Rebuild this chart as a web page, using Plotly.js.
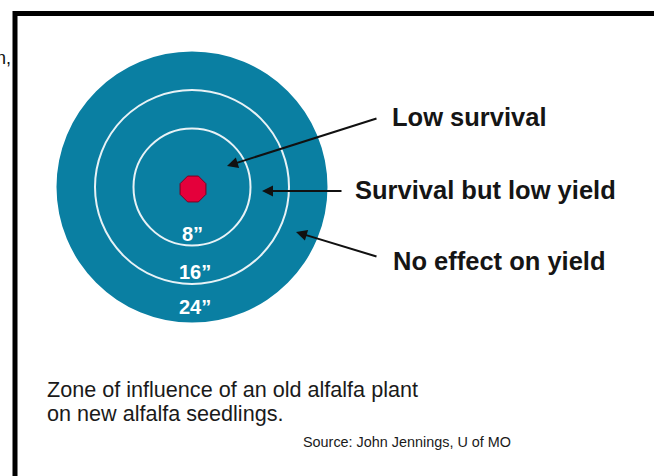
<!DOCTYPE html>
<html>
<head>
<meta charset="utf-8">
<script src="https://cdn.plot.ly/plotly-3.0.1.min.js"></script>
<style>html,body{margin:0;padding:0;background:#fff;}#chart{width:654px;height:476px;}</style>
</head>
<body>
<div id="chart"></div>
<script>
// Zones of influence (inches) and their labels
const ringInches = [8, 16, 24];
const ringLabels = ['8\u201d', '16\u201d', '24\u201d'];
const zoneNames = ['Low survival', 'Survival but low yield', 'No effect on yield'];
// radii (display units)
const ringRadii = [58.5, 97, 135.5];
const plantRadius = 14;
const captionLines = ['Zone of influence of an old alfalfa plant', 'on new alfalfa seedlings.'];
const sourceText = 'Source: John Jennings, U of MO';

const cx = 192, cy = 187;
const teal = '#0a7fa2';
const font = 'Liberation Sans, Arial, Helvetica, sans-serif';

const shapes = [];
// outer disc
shapes.push({type:'circle', xref:'x', yref:'y', x0:cx-ringRadii[2], x1:cx+ringRadii[2], y0:cy-ringRadii[2], y1:cy+ringRadii[2], fillcolor:teal, line:{width:0}, layer:'below'});
// inner white rings
for (let i = 0; i < 2; i++) {
  const r = ringRadii[i];
  shapes.push({type:'circle', xref:'x', yref:'y', x0:cx-r, x1:cx+r, y0:cy-r, y1:cy+r, line:{color:'#e8f2f6', width:2}});
}
// frame
shapes.push({type:'rect', xref:'x', yref:'y', x0:15, x1:700, y0:13.5, y1:520, line:{color:'#000', width:5}});

// octagonal plant
const ox = [], oy = [];
for (let k = 0; k <= 8; k++) {
  const a = (k * 45 + 22.5) * Math.PI / 180;
  ox.push(cx + 1 + plantRadius * Math.cos(a));
  oy.push(cy + 2 + plantRadius * Math.sin(a));
}
const traces = [{x: ox, y: oy, type:'scatter', mode:'lines', fill:'toself', fillcolor:'#e4003b', line:{color:'#7a0020', width:1}, hoverinfo:'skip', showlegend:false}];

const annotations = [];
// ring labels
const ringLabelY = [234, 272, 307];
ringLabels.forEach((t, i) => {
  annotations.push({x: cx + (i ? 3 : 0), y: ringLabelY[i], xref:'x', yref:'y', text:'<b>'+t+'</b>', showarrow:false, font:{family:font, size:20, color:'#fff'}});
});
// zone labels
const zoneX = [390, 353, 391], zoneY = [117, 190, 261];
zoneNames.forEach((t, i) => {
  annotations.push({x: zoneX[i], y: zoneY[i], xref:'x', yref:'y', xanchor:'left', text:'<b>'+t+'</b>', showarrow:false, font:{family:font, size:25.5, color:'#151515'}});
});
// arrows
const tips = [[227,166],[262,191],[296,232]];
const tails = [[378,118],[343,191],[378,257]];
tips.forEach((p, i) => {
  annotations.push({x:p[0], y:p[1], ax:tails[i][0], ay:tails[i][1], xref:'x', yref:'y', axref:'x', ayref:'y', text:'', showarrow:true, arrowhead:2, arrowsize:1.1, arrowwidth:2, arrowcolor:'#111'});
});
// caption
captionLines.forEach((t, i) => {
  annotations.push({x:45, y:389 + i*24, xref:'x', yref:'y', xanchor:'left', text:t, showarrow:false, font:{family:font, size:21.6, color:'#1a1a1a'}});
});
annotations.push({x:513, y:442, xref:'x', yref:'y', xanchor:'right', text:sourceText, showarrow:false, font:{family:font, size:14.4, color:'#1a1a1a'}});
// cropped stray text (cut off at the edge in the reference as well)
annotations.push({x:13, y:58, xref:'x', yref:'y', xanchor:'right', text:'n,', showarrow:false, font:{family:font, size:18, color:'#111'}});

const layout = {
  width:654, height:476,
  margin:{l:0, r:0, t:0, b:0},
  paper_bgcolor:'#fff', plot_bgcolor:'#fff',
  xaxis:{range:[0,654], visible:false, fixedrange:true},
  yaxis:{range:[476,0], visible:false, fixedrange:true},
  shapes: shapes,
  annotations: annotations,
  showlegend:false
};
Plotly.newPlot('chart', traces, layout, {displayModeBar:false, staticPlot:true});
</script>
</body>
</html>
